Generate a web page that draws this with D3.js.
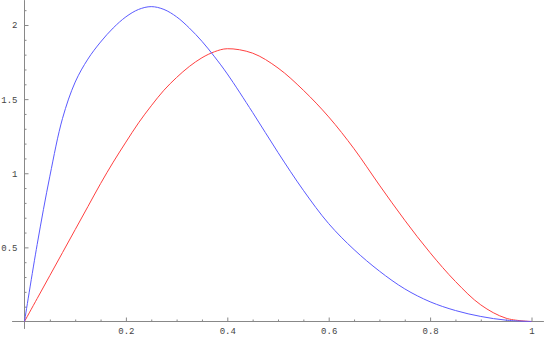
<!DOCTYPE html>
<html>
<head>
<meta charset="utf-8">
<script src="https://cdn.jsdelivr.net/npm/d3@7"></script>
<style>
  body { margin: 0; background: #fff; }
  .tk text { font-family: "Liberation Mono", "DejaVu Sans Mono", monospace; font-size: 9px; fill: #444; }
</style>
</head>
<body>
<div class="area"></div>
<script>
var xs = [0, 0.025, 0.05, 0.075, 0.1, 0.125, 0.15, 0.175, 0.2, 0.225, 0.25, 0.275, 0.3, 0.325, 0.35, 0.375,
  0.4, 0.45, 0.5, 0.55, 0.6, 0.65, 0.7, 0.75, 0.8, 0.85, 0.9, 0.95, 1];
var blue = [0, 0.52, 0.98, 1.37, 1.615, 1.77, 1.885, 1.98, 2.055, 2.105, 2.124, 2.105, 2.055, 1.98, 1.89, 1.785,
  1.67, 1.41, 1.14, 0.885, 0.66, 0.485, 0.34, 0.22, 0.133, 0.074, 0.034, 0.009, 0];
var red = [0, 0.155, 0.31, 0.465, 0.62, 0.775, 0.93, 1.075, 1.21, 1.34, 1.455, 1.56, 1.646, 1.72, 1.779, 1.82,
  1.84, 1.81, 1.71, 1.56, 1.38, 1.165, 0.92, 0.683, 0.464, 0.27, 0.112, 0.022, 0];
var xTicks = [0.2, 0.4, 0.6, 0.8, 1];
var yTicks = [0.5, 1, 1.5, 2];

var svg = d3.select(".area")
    .append("svg")
    .attr("width", 545)
    .attr("height", 337);

var x = d3.scaleLinear().domain([0, 1]).range([24.5, 531.5]);
var y = d3.scaleLinear().domain([0, 2]).range([321.5, 25]);

// axes lines, spanning the padded plot range
svg.append("line")
    .attr("x1", x(-0.0245)).attr("x2", x(1.0245))
    .attr("y1", y(0)).attr("y2", y(0))
    .style("stroke", "#888").style("stroke-width", 1);
svg.append("line")
    .attr("x1", x(0)).attr("x2", x(0))
    .attr("y1", y(2.168)).attr("y2", y(-0.05))
    .style("stroke", "#888").style("stroke-width", 1);

// minor ticks
var xMinor = d3.range(1, 20).map(function(i) { return i / 20; }).filter(function(v) { return Math.round(v * 20) % 4 != 0; });
var yMinor = d3.range(1, 22).map(function(i) { return i / 10; }).filter(function(v) { return Math.round(v * 10) % 5 != 0; });

svg.append("g").attr("class", "tk")
    .attr("transform", "translate(0," + y(0) + ")")
    .call(d3.axisBottom(x).tickValues(xMinor).tickSize(-2).tickFormat(""))
    .call(function(g) { g.select(".domain").remove(); g.selectAll("line").attr("stroke", "#888"); });
svg.append("g").attr("class", "tk")
    .attr("transform", "translate(" + x(0) + ",0)")
    .call(d3.axisLeft(y).tickValues(yMinor).tickSize(-2).tickFormat(""))
    .call(function(g) { g.select(".domain").remove(); g.selectAll("line").attr("stroke", "#888"); });

// major ticks + labels
svg.append("g").attr("class", "tk")
    .attr("transform", "translate(0," + y(0) + ")")
    .call(d3.axisBottom(x).tickValues(xTicks).tickSize(-4).tickPadding(6).tickFormat(d3.format("")))
    .call(function(g) { g.select(".domain").remove(); g.selectAll("line").attr("stroke", "#888"); });
svg.append("g").attr("class", "tk")
    .attr("transform", "translate(" + x(0) + ",0)")
    .call(d3.axisLeft(y).tickValues(yTicks).tickSize(-4).tickPadding(7).tickFormat(d3.format("")))
    .call(function(g) { g.select(".domain").remove(); g.selectAll("line").attr("stroke", "#888"); });

var line = d3.line()
    .x(function(d) { return x(d[0]); })
    .y(function(d) { return y(d[1]); })
    .curve(d3.curveCatmullRom.alpha(0.5));

svg.append("path")
    .datum(xs.map(function(v, i) { return [v, red[i]]; }))
    .attr("d", line)
    .attr("fill", "none")
    .attr("stroke", "#ff4040")
    .attr("stroke-width", 1);

svg.append("path")
    .datum(xs.map(function(v, i) { return [v, blue[i]]; }))
    .attr("d", line)
    .attr("fill", "none")
    .attr("stroke", "#5a5aff")
    .attr("stroke-width", 1);
</script>
</body>
</html>
